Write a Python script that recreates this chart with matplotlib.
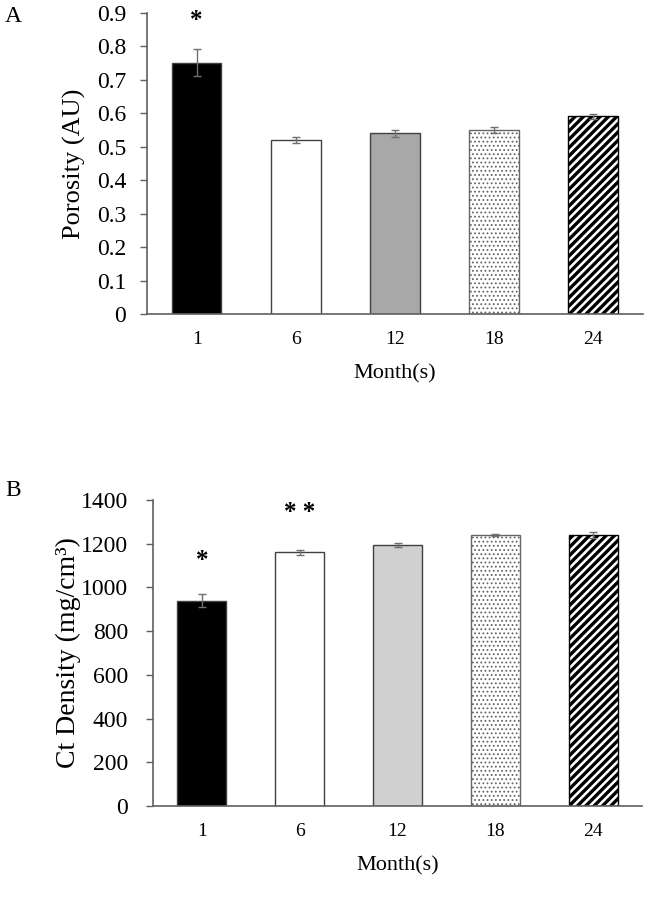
import matplotlib
matplotlib.use("Agg")
import matplotlib.pyplot as plt
import numpy as np

months = ["1", "6", "12", "18", "24"]
porosity = [0.75, 0.52, 0.54, 0.55, 0.59]
porosity_err = [0.04, 0.01, 0.01, 0.01, 0.008]
density = [940, 1160, 1195, 1240, 1240]
density_err = [30, 10, 8, 5, 15]

plt.rcParams['font.family'] = ['Liberation Serif', 'DejaVu Serif']

fig = plt.figure(figsize=(6.48, 9.0), dpi=100)

edge = '#404040'

def draw(ax, vals, errs, fills, ylim, yticks, ticklabels, ypad):
    x = np.arange(len(vals))
    styles = [
        dict(color=fills[0], hatch=None, lw=1.0, hlw=1.0, ec=edge),
        dict(color=fills[1], hatch=None, lw=1.0, hlw=1.0, ec=edge),
        dict(color=fills[2], hatch=None, lw=1.0, hlw=1.0, ec=edge),
        dict(color='white', hatch='....', lw=1.0, hlw=0.8, ec='#666666'),
        dict(color='white', hatch='////', lw=1.0, hlw=2.4, ec='black'),
    ]
    for i, s in enumerate(styles):
        with plt.rc_context({'hatch.linewidth': s['hlw']}):
            ax.bar(x[i], vals[i], width=0.5, color=s['color'], edgecolor=s['ec'],
                   linewidth=s['lw'], hatch=s['hatch'], zorder=2)
    ax.errorbar(x, vals, yerr=errs, fmt='none', ecolor='#707070', elinewidth=1,
                capsize=3, capthick=1, zorder=3)
    ax.set_xlim(-0.5, len(vals) - 0.5)
    ax.set_ylim(*ylim)
    ax.set_yticks(yticks)
    ax.set_yticklabels(ticklabels, fontsize=17)
    ax.set_xticks(x)
    ax.set_xticklabels(months, fontsize=14)
    ax.tick_params(axis='x', length=0, pad=12)
    ax.tick_params(axis='y', length=5, width=1, color='#606060', direction='out', pad=ypad)
    for sp in ['top', 'right']:
        ax.spines[sp].set_visible(False)
    for sp in ['left', 'bottom']:
        ax.spines[sp].set_color('#606060')
        ax.spines[sp].set_linewidth(1.2)
    ax.set_xlabel("Month(s)", fontsize=16, labelpad=12)
    return ax

axA = fig.add_axes([0.227, 0.651, 0.765, 0.335])
yA = [0, 0.1, 0.2, 0.3, 0.4, 0.5, 0.6, 0.7, 0.8, 0.9]
draw(axA, porosity, porosity_err, ['black', 'white', '#a8a8a8'], (0, 0.9), yA,
     ["0" if v == 0 else f"{v:.1f}" for v in yA], 10)
axA.set_ylabel("Porosity (AU)", fontsize=19, labelpad=8)
axA.text(0, 0.876, "*", ha='center', va='center', fontsize=18, fontweight='bold')

axB = fig.add_axes([0.236, 0.1044, 0.755, 0.34])
yB = [0, 200, 400, 600, 800, 1000, 1200, 1400]
draw(axB, density, density_err, ['black', 'white', '#d0d0d0'], (0, 1400), yB,
     [str(v) for v in yB], 13)
axB.set_ylabel("Ct Density (mg/cm³)", fontsize=20, labelpad=0)
axB.text(0, 1125, "*", ha='center', va='center', fontsize=18, fontweight='bold')
axB.text(1, 1342, "* *", ha='center', va='center', fontsize=18, fontweight='bold')

fig.text(0.008, 0.982, "A", fontsize=17, ha='left', va='center')
fig.text(0.008, 0.455, "B", fontsize=17, ha='left', va='center')

fig.savefig("out.png", dpi=100, facecolor='white')
